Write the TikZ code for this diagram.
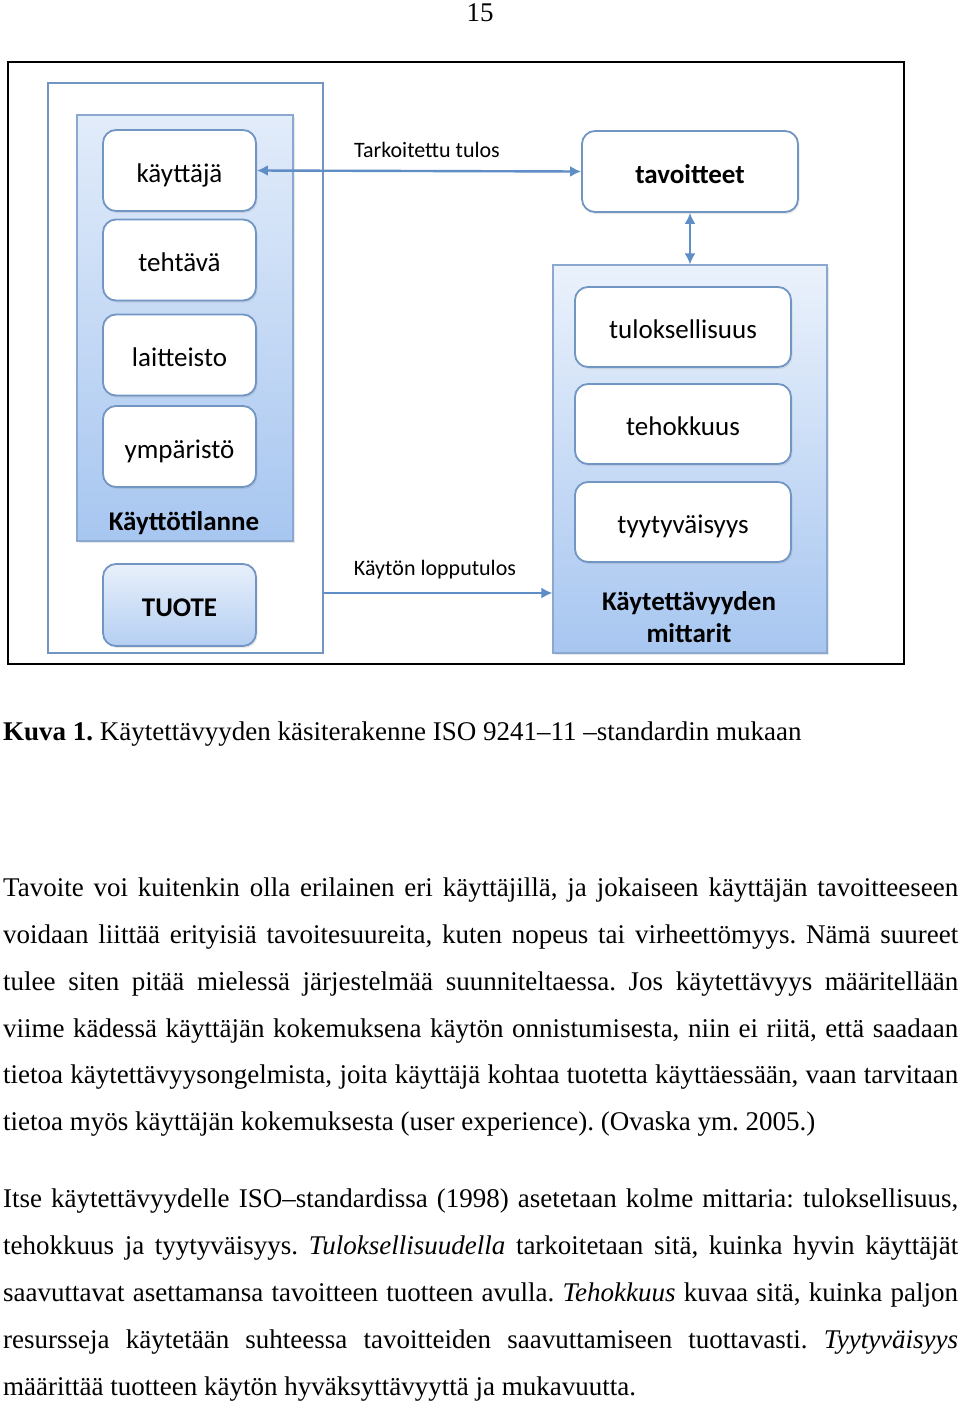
\documentclass[tikz,border=0pt]{standalone}
\usepackage{fontspec}
\setmainfont{Liberation Serif}
\newfontfamily\calib{Carlito}
\usetikzlibrary{arrows.meta,shadows}
\definecolor{bord}{HTML}{7196C4}
\definecolor{cbord}{HTML}{8AA8D0}
\definecolor{arr}{HTML}{5F8DC6}
\definecolor{gtop}{HTML}{E2ECFA}
\definecolor{gbot}{HTML}{A7C6F0}
\tikzset{
  shad/.style={drop shadow={opacity=0.18, shadow xshift=1.5pt, shadow yshift=-2pt}},
  item/.style={draw=bord, line width=1.8pt, rounded corners=13pt, fill=white, shad,
    minimum width=153pt, minimum height=81pt, font=\calib\fontsize{27}{30}\selectfont,
    inner sep=0pt, text height=23pt, text depth=0pt},
  bitem/.style={item, font=\calib\bfseries\fontsize{27}{30}\selectfont},
  ritem/.style={item, minimum width=216pt, minimum height=80pt},
  cont/.style={draw=cbord, line width=1.2pt, top color=gtop, bottom color=gbot, inner sep=0pt, shad},
  lbl/.style={font=\calib\fontsize{22}{25}\selectfont, inner sep=0pt},
  blbl/.style={font=\calib\bfseries\fontsize{27}{32}\selectfont, inner sep=0pt, align=center},
  conn/.style={draw=arr, line width=2.4pt, >={Latex[length=11pt,width=11pt]}},
  body/.style={anchor=base west, inner sep=0pt, font=\fontsize{27}{30}\selectfont}
}
\begin{document}
\frenchspacing
\begin{tikzpicture}[x=1pt,y=-1pt]
\useasboundingbox (0,0) rectangle (960,1401);
\fill[white] (0,0) rectangle (960,1401);
% page number
\node[anchor=base, inner sep=0pt, font=\fontsize{27}{30}\selectfont] (pnum) at (480,21) {15};
% frame
\node[draw=black, line width=2.5pt, minimum width=896pt, minimum height=602pt, inner sep=0pt] (frame) at (456,363) {};
% left outer
\node[draw=bord, line width=1.3pt, fill=white, minimum width=275pt, minimum height=570pt, inner sep=0pt] (outerL) at (185.5,368) {};
% Käyttötilanne container
\node[cont, minimum width=216pt, minimum height=426pt] (kt) at (185,328) {};
\node[item] (kayttaja) at (179.5,170.5) {käyttäjä};
\node[item] (tehtava) at (179.5,260) {tehtävä};
\node[item] (laitteisto) at (179.5,355) {laitteisto};
\node[item] (ymparisto) at (179.5,446.5) {ympäristö};
\node[blbl] (ktlbl) at (184,523) {Käyttötilanne};
% TUOTE
\node[bitem, top color=gtop!80!white, bottom color=gbot!85!white, minimum height=82pt] (tuote) at (179.5,605) {TUOTE};
% tavoitteet
\node[bitem, minimum width=216pt] (tavoitteet) at (690,171.5) {tavoitteet};
% right container
\node[cont, top color=gtop!70!white, minimum width=274pt, minimum height=388pt] (mitt) at (690,459) {};
\node[ritem] (tulos) at (683,327) {tuloksellisuus};
\node[ritem] (teho) at (683,424) {tehokkuus};
\node[ritem] (tyyt) at (683,522) {tyytyväisyys};
\node[blbl] (mittlbl) at (689,617) {Käytettävyyden\\mittarit};
% connectors
\draw[conn, <->] (kayttaja.east) -- (tavoitteet.west);
\node[lbl] (tt) at (427,150) {Tarkoitettu tulos};
\draw[conn, <->] (tavoitteet.south) -- (tavoitteet.south |- mitt.north);
\coordinate (lo) at (0,593);
\draw[conn, ->] (outerL.east |- lo) -- (mitt.west |- lo);
\node[lbl] (kl) at (435,570) {Käytön lopputulos};
% caption
\node[body] (cap) at (3,740) {\textbf{Kuva 1.} Käytettävyyden käsiterakenne ISO 9241–11 –standardin mukaan};
% paragraph 1
\node[body] (p1) at (3,896) {\makebox[955pt][s]{Tavoite voi kuitenkin olla erilainen eri käyttäjillä, ja jokaiseen käyttäjän tavoitteeseen}};
\node[body] (p2) at (3,943) {\makebox[955pt][s]{voidaan liittää erityisiä tavoitesuureita, kuten nopeus tai virheettömyys. Nämä suureet}};
\node[body] (p3) at (3,990) {\makebox[955pt][s]{tulee siten pitää mielessä järjestelmää suunniteltaessa. Jos käytettävyys määritellään}};
\node[body] (p4) at (3,1037) {\makebox[955pt][s]{viime kädessä käyttäjän kokemuksena käytön onnistumisesta, niin ei riitä, että saadaan}};
\node[body] (p5) at (3,1083) {\makebox[955pt][s]{tietoa käytettävyysongelmista, joita käyttäjä kohtaa tuotetta käyttäessään, vaan tarvitaan}};
\node[body] (p6) at (3,1130) {tietoa myös käyttäjän kokemuksesta (user experience). (Ovaska ym. 2005.)};
% paragraph 2
\node[body] (q1) at (3,1207) {\makebox[955pt][s]{Itse käytettävyydelle ISO–standardissa (1998) asetetaan kolme mittaria: tuloksellisuus,}};
\node[body] (q2) at (3,1254) {\makebox[955pt][s]{tehokkuus ja tyytyväisyys. \textit{Tuloksellisuudella} tarkoitetaan sitä, kuinka hyvin käyttäjät}};
\node[body] (q3) at (3,1301) {\makebox[955pt][s]{saavuttavat asettamansa tavoitteen tuotteen avulla. \textit{Tehokkuus} kuvaa sitä, kuinka paljon}};
\node[body] (q4) at (3,1348) {\makebox[955pt][s]{resursseja käytetään suhteessa tavoitteiden saavuttamiseen tuottavasti. \textit{Tyytyväisyys}}};
\node[body] (q5) at (3,1395) {määrittää tuotteen käytön hyväksyttävyyttä ja mukavuutta.};
\end{tikzpicture}
\end{document}
